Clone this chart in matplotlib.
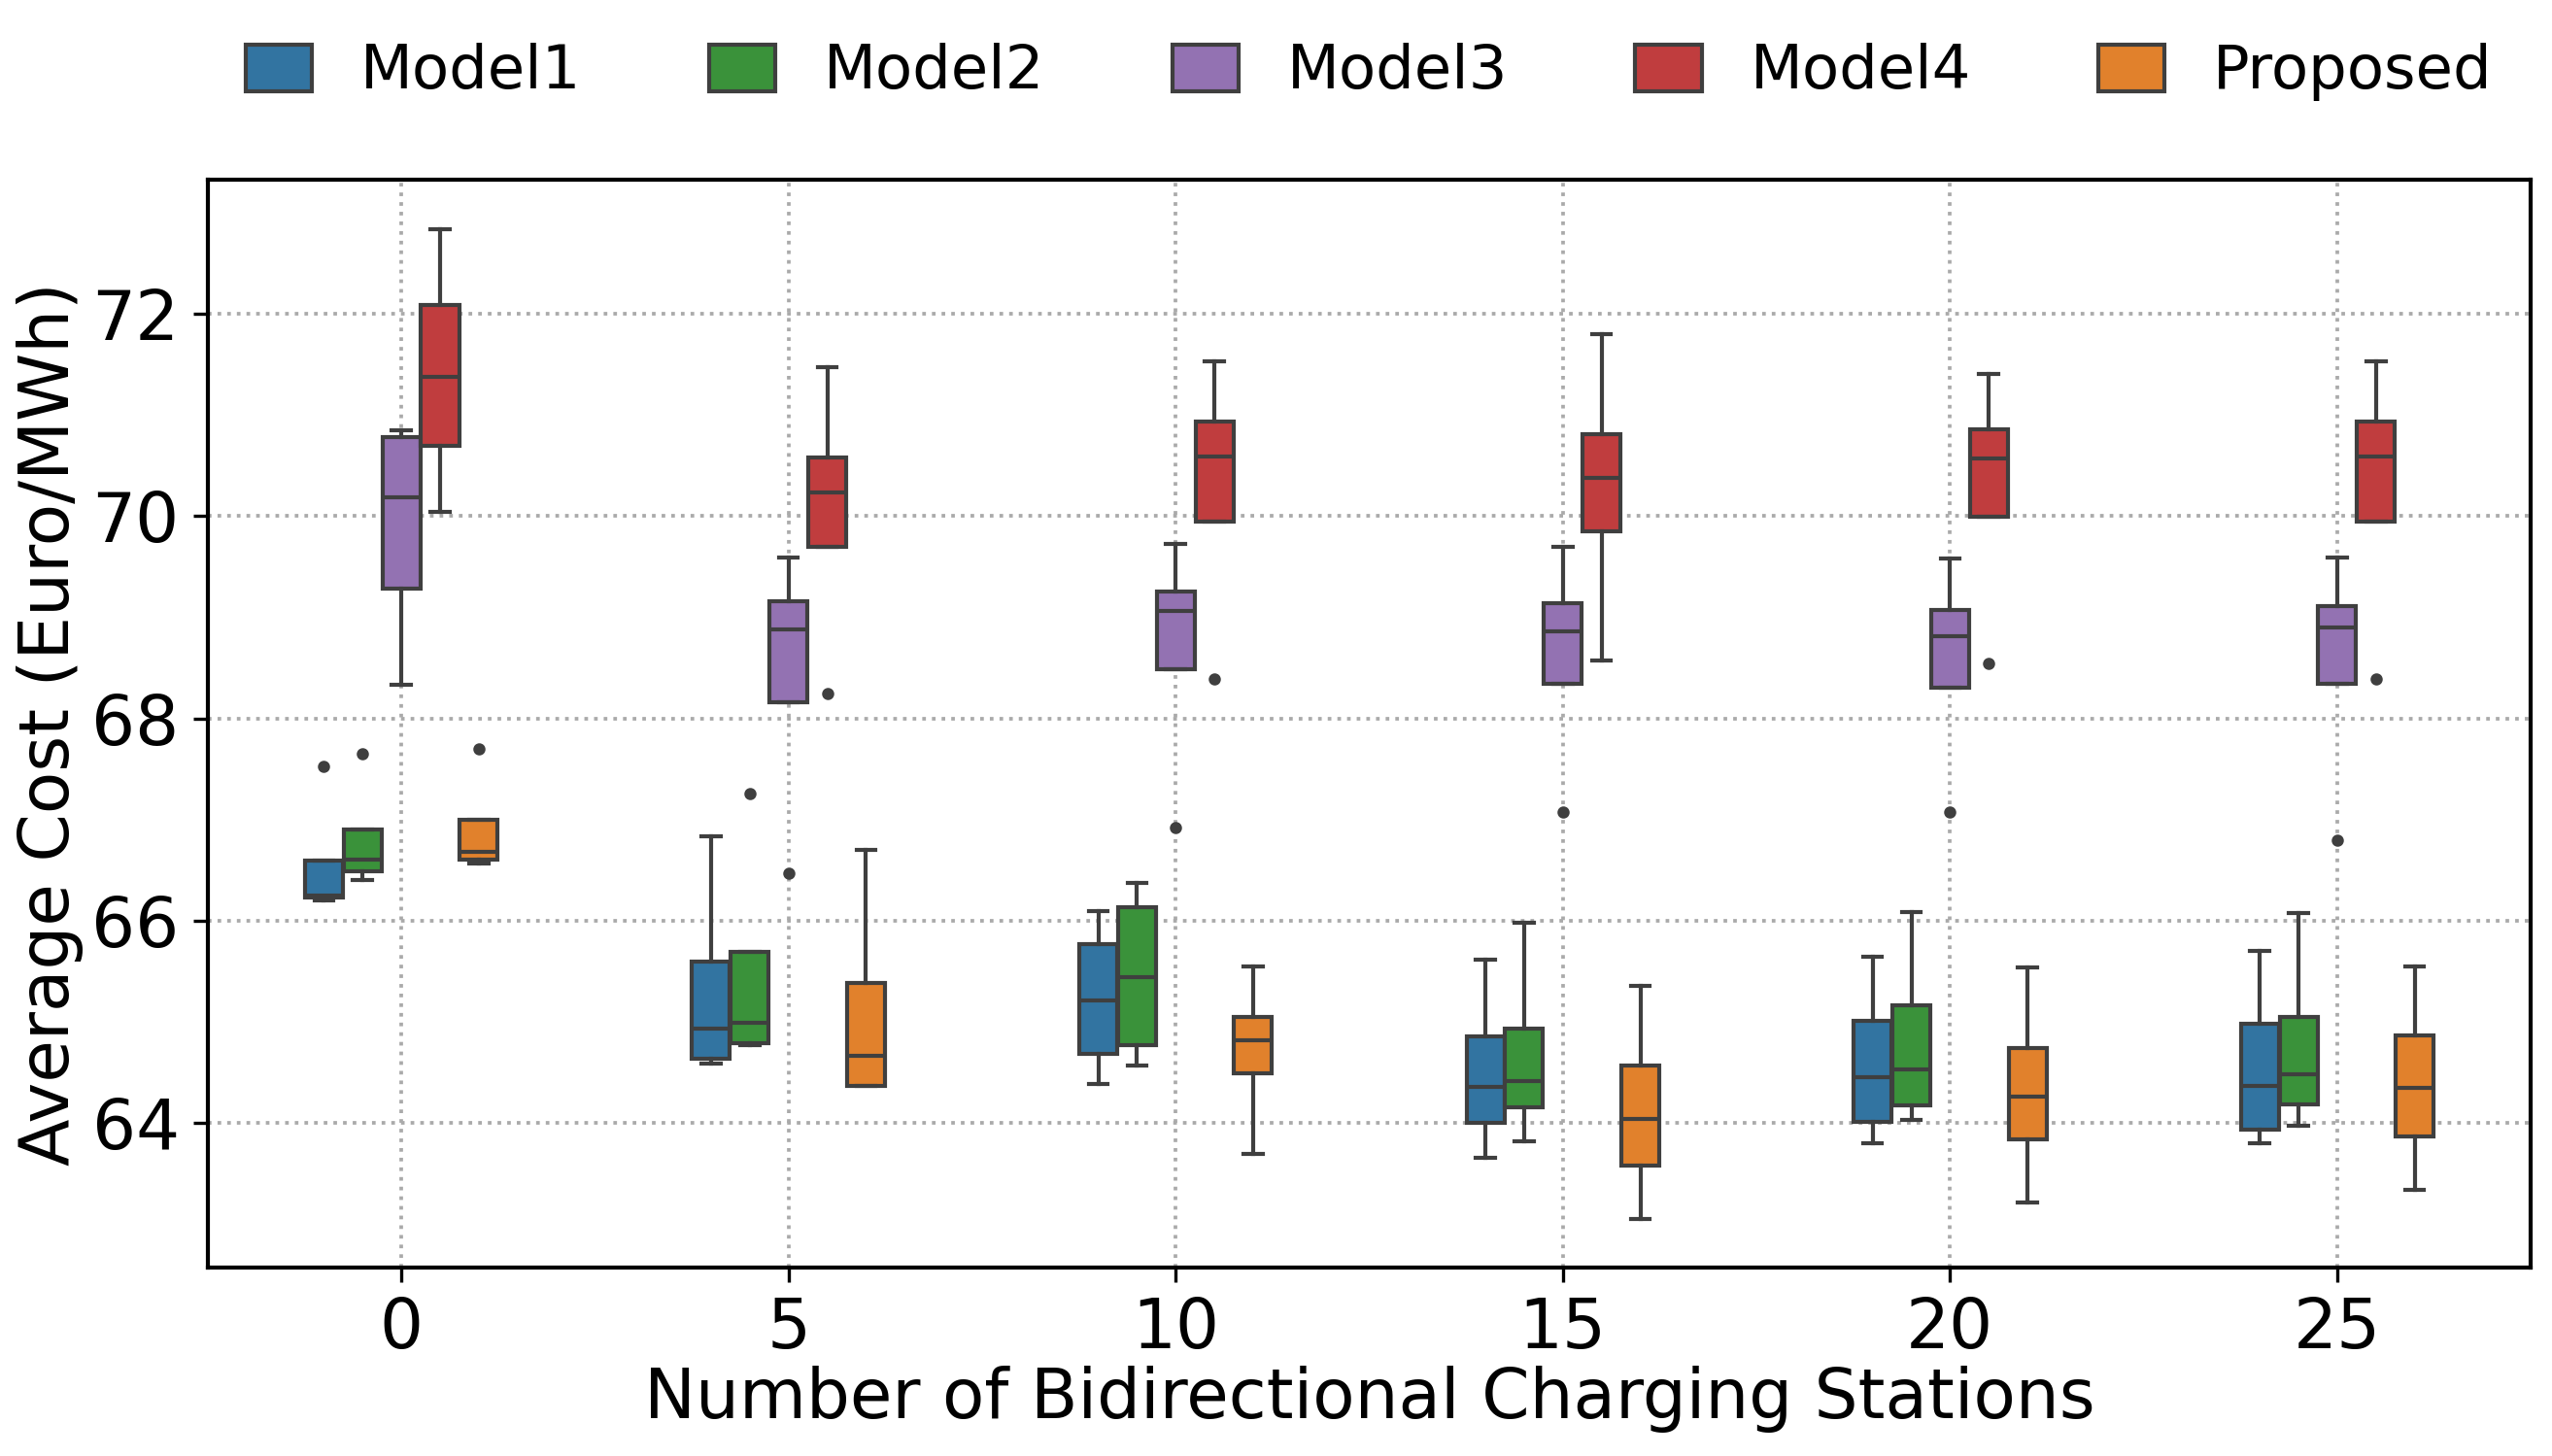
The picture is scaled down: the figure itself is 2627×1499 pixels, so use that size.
import matplotlib
matplotlib.use("Agg")
import matplotlib.pyplot as plt
from matplotlib.patches import Patch

# number of bidirectional charging stations (x categories)
STATIONS = [0, 5, 10, 15, 20, 25]
MODELS = ["Model1", "Model2", "Model3", "Model4", "Proposed"]
COLORS = ["#3274a1", "#3a923a", "#9372b2", "#c03d3e", "#e1812c"]

# box statistics, one row per model, one column per station count
Q1 = [
    [66.23, 64.64, 64.68, 64.00, 64.01, 63.94],
    [66.49, 64.79, 64.77, 64.16, 64.18, 64.19],
    [69.28, 68.16, 68.49, 68.34, 68.30, 68.34],
    [70.69, 69.69, 69.94, 69.85, 69.99, 69.94],
    [66.60, 64.37, 64.49, 63.58, 63.84, 63.87],
]
MEDIAN = [
    [66.25, 64.93, 65.21, 64.36, 64.45, 64.37],
    [66.60, 64.99, 65.44, 64.42, 64.53, 64.48],
    [70.18, 68.88, 69.06, 68.86, 68.81, 68.90],
    [71.37, 70.23, 70.59, 70.38, 70.57, 70.59],
    [66.68, 64.67, 64.82, 64.04, 64.26, 64.35],
]
Q3 = [
    [66.59, 65.60, 65.77, 64.86, 65.01, 64.98],
    [66.90, 65.69, 66.13, 64.93, 65.16, 65.05],
    [70.78, 69.16, 69.25, 69.14, 69.07, 69.11],
    [72.08, 70.58, 70.93, 70.81, 70.86, 70.93],
    [67.00, 65.39, 65.05, 64.57, 64.74, 64.87],
]
WHIS_LO = [
    [66.20, 64.59, 64.39, 63.66, 63.80, 63.80],
    [66.40, 64.77, 64.57, 63.82, 64.03, 63.97],
    [68.33, 68.16, 68.49, 68.34, 68.30, 68.34],
    [70.04, 69.69, 69.94, 68.57, 69.99, 69.94],
    [66.57, 64.37, 63.70, 63.05, 63.22, 63.34],
]
WHIS_HI = [
    [66.59, 66.83, 66.10, 65.62, 65.64, 65.70],
    [66.90, 65.69, 66.37, 65.98, 66.09, 66.08],
    [70.85, 69.59, 69.72, 69.69, 69.58, 69.59],
    [72.83, 71.47, 71.53, 71.80, 71.40, 71.53],
    [67.00, 66.70, 65.55, 65.36, 65.54, 65.55],
]
FLIERS = [
    [[67.53], [], [], [], [], []],
    [[67.65], [67.26], [], [], [], []],
    [[], [66.47], [66.92], [67.07], [67.07], [66.80]],
    [[], [68.25], [68.39], [], [68.54], [68.39]],
    [[67.70], [], [], [], [], []],
]

GRAY = "#3f3f3f"
LW = 1.0

fig = plt.figure(figsize=(2627 / 300, 1499 / 300), dpi=300)
ax = fig.add_axes([0.0814, 0.1292, 0.9103, 0.7472])

n = len(MODELS)
width = 0.5 / n
for m in range(n):
    stats = []
    for g in range(len(STATIONS)):
        stats.append({"med": MEDIAN[m][g], "q1": Q1[m][g], "q3": Q3[m][g],
                      "whislo": WHIS_LO[m][g], "whishi": WHIS_HI[m][g],
                      "fliers": FLIERS[m][g]})
    pos = [g - 0.25 + width * (m + 0.5) for g in range(len(STATIONS))]
    ax.bxp(stats, positions=pos, widths=width * 0.98, patch_artist=True,
           manage_ticks=False,
           boxprops=dict(facecolor=COLORS[m], edgecolor=GRAY, linewidth=LW),
           medianprops=dict(color=GRAY, linewidth=LW),
           whiskerprops=dict(color=GRAY, linewidth=LW),
           capprops=dict(color=GRAY, linewidth=LW),
           flierprops=dict(marker="o", markersize=2.0, markerfacecolor=GRAY,
                           markeredgecolor=GRAY, linestyle="none"))

ax.set_xticks(range(len(STATIONS)))
ax.set_xticklabels([str(s) for s in STATIONS])
ax.set_xlim(-0.5, len(STATIONS) - 0.5)
ax.set_ylim(62.57, 73.32)
ax.set_yticks([64, 66, 68, 70, 72])
ax.tick_params(labelsize=17)
ax.grid(True, linestyle=":", color="#aaaaaa", linewidth=0.9)
ax.set_axisbelow(True)
for s in ax.spines.values():
    s.set_linewidth(1.0)

ax.set_xlabel("Number of Bidirectional Charging Stations", fontsize=17, labelpad=0.5)
ax.set_ylabel("Average Cost (Euro/MWh)", fontsize=17, labelpad=2)

handles = [Patch(facecolor=c, edgecolor=GRAY, linewidth=LW, label=l)
           for c, l in zip(COLORS, MODELS)]
ax.legend(handles=handles, loc="lower center", bbox_to_anchor=(0.5, 1.022), ncol=5,
          frameon=False, fontsize=15, handlelength=1.09, handleheight=0.8,
          columnspacing=2.1)

fig.savefig("out.png", dpi=300)
